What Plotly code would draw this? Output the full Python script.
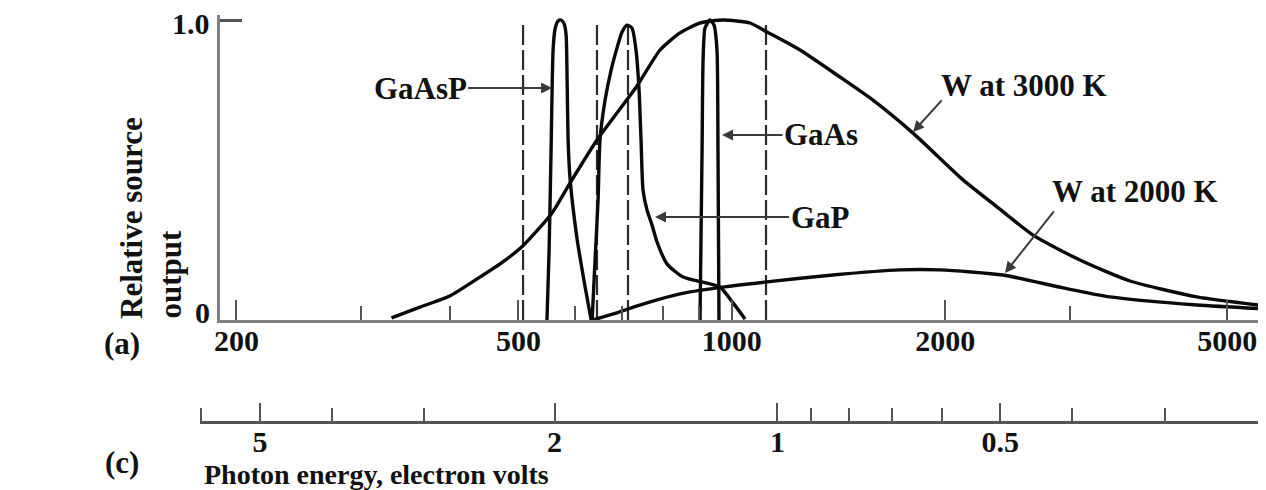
import math
import plotly.graph_objects as go

# ---------------- data ----------------
# Tungsten (W) lamp at 3000 K : wavelength (nm) / relative output
w3000_wl = [331, 363, 400, 441, 471, 507, 557.7, 591.3, 645.3, 734.8, 792, 845, 902, 972,
            1061, 1121, 1248, 1421, 1582, 1802, 2120, 2367, 2661, 3099, 3647, 4532, 5674]
w3000_rel = [0.007, 0.043, 0.08, 0.143, 0.187, 0.247, 0.357, 0.457, 0.6, 0.78, 0.9,
             0.957, 0.99, 1.0, 0.99, 0.96, 0.9, 0.81, 0.733, 0.623, 0.467, 0.377, 0.283,
             0.2, 0.13, 0.077, 0.047]

# Tungsten (W) lamp at 2000 K
w2000_wl = [637, 673, 759, 845, 953, 1121, 1389, 1727, 1967, 2414, 2934, 3418, 4532, 5674]
w2000_rel = [0.0, 0.017, 0.057, 0.087, 0.107, 0.127, 0.15, 0.167, 0.167, 0.15, 0.107,
             0.077, 0.05, 0.037]

# GaAsP LED
gaasp_wl = [548.5, 552.3, 555.9, 559.5, 563.1, 568.7, 574.2, 580.0, 583.7, 585.6, 587.5,
            591.3, 604.9, 620.9, 633.2]
gaasp_rel = [0.0, 0.23, 0.57, 0.90, 0.97, 0.997, 1.0, 0.987, 0.95, 0.80, 0.60, 0.47,
             0.27, 0.11, 0.0]

# GaP LED
gap_wl = [635.2, 641.3, 647.6, 651.6, 662.5, 675.6, 688.7, 700.0, 711.4, 723.1, 732.5,
          739.8, 744.6, 749.4, 759.1, 771.6, 784.3, 810.2, 853.6, 922.6, 962.3, 1004, 1044]
gap_rel = [0.0, 0.2, 0.4, 0.6, 0.733, 0.833, 0.907, 0.96, 0.983, 0.973, 0.9, 0.767, 0.6,
           0.433, 0.367, 0.317, 0.26, 0.187, 0.143, 0.123, 0.11, 0.057, 0.003]

# GaAs LED
gaas_wl = [901.9, 907.9, 910.9, 916.7, 931.6, 943.9, 953.0, 956.1, 959.2]
gaas_rel = [0.0, 0.567, 0.867, 0.973, 1.0, 0.983, 0.9, 0.567, 0.0]

# dashed reference wavelengths (nm) and their vertical extent
dashed_wl = [507.5, 645.3, 713.7, 1117.6]
dashed_span = [0.0, 1.0]

# wavelength axis ticks (nm)
wl_major = [200, 500, 1000, 2000, 5000]
wl_major_text = ["200", "500", "1000", "2000", "5000"]
wl_minor = [300, 400, 600, 700, 800, 900, 3000]

# photon-energy axis ticks (eV)
ev_major = [5, 2, 1, 0.5]
ev_major_text = ["5", "2", "1", "0.5"]
ev_minor = [6, 4, 3, 0.9, 0.8, 0.7, 0.6, 0.4, 0.3]

# relative output axis ticks
rel_ticks = [0, 1.0]
rel_tick_text = ["0", "1.0"]

# curve labels with arrows: text, arrow tip (nm, rel)
led_labels = ["GaAsP", "GaAs", "GaP"]
led_tip_wl = [557.7, 968.7, 779.2]
led_tip_rel = [0.773, 0.617, 0.343]

lamp_labels = ["W at 3000 K", "W at 2000 K"]
lamp_text_wl = [2584, 3707]
lamp_text_rel = [0.783, 0.427]
lamp_tip_wl = [1802, 2430]
lamp_tip_rel = [0.627, 0.157]

# ---------------- figure ----------------
FONT = "Liberation Serif"
INK = "#111111"
AXIS_GREY = "#808080"

fig = go.Figure()

for wl in dashed_wl:
    fig.add_trace(go.Scatter(
        x=[wl, wl], y=dashed_span, mode="lines",
        line=dict(color="#2b2b2b", width=2.2, dash="20px,5px"),
        hoverinfo="skip", showlegend=False))

curve_style = dict(color="#0a0a0a", width=3.4)
for xs, ys, nm in [(w3000_wl, w3000_rel, "W 3000 K"), (w2000_wl, w2000_rel, "W 2000 K"),
                   (gaasp_wl, gaasp_rel, "GaAsP"), (gap_wl, gap_rel, "GaP"),
                   (gaas_wl, gaas_rel, "GaAs")]:
    fig.add_trace(go.Scatter(
        x=xs, y=ys, mode="lines", name=nm,
        line=dict(shape="spline", smoothing=0.6, **curve_style),
        hoverinfo="skip", showlegend=False))

# dummy trace so that the photon-energy axis is drawn
fig.add_trace(go.Scatter(x=ev_major, y=[None] * len(ev_major), xaxis="x2", yaxis="y",
                         mode="markers", hoverinfo="skip", showlegend=False))

ann_font = dict(family=FONT, size=31, color=INK, weight="bold")
led_offsets = [(-132, 0), (99, 0), (165, 0)]
for txt, xw, yr, (ax, ay) in zip(led_labels, led_tip_wl, led_tip_rel, led_offsets):
    fig.add_annotation(x=math.log10(xw), y=yr, xref="x", yref="y", text=txt,
                       showarrow=True, ax=ax, ay=ay, arrowhead=2, arrowsize=1.1,
                       arrowwidth=2, arrowcolor="#3a3a3a", standoff=0, font=ann_font)

lamp_offsets = [(30, -33), (50, -63)]
for txt, tx, ty, xw, yr, (ax, ay) in zip(lamp_labels, lamp_text_wl, lamp_text_rel,
                                         lamp_tip_wl, lamp_tip_rel, lamp_offsets):
    fig.add_annotation(x=math.log10(tx), y=ty, xref="x", yref="y", text=txt,
                       showarrow=False, font=ann_font)
    fig.add_annotation(x=math.log10(xw), y=yr, xref="x", yref="y", text="",
                       showarrow=True, ax=ax, ay=ay, arrowhead=2, arrowsize=1.1,
                       arrowwidth=2, arrowcolor="#3a3a3a", standoff=0)

# relative-output tick labels, placed on the y scale beside the axis
tick_font = dict(family=FONT, size=30, color=INK, weight="bold")
for val, txt, shift in zip(rel_ticks, rel_tick_text, [8, -3]):
    fig.add_annotation(x=0.0113, y=val, xref="paper", yref="y", text=txt,
                       xanchor="right", yanchor="middle", yshift=shift,
                       showarrow=False, font=tick_font)

# axis titles / panel letters
side_font = dict(family=FONT, size=31, color=INK, weight="bold")
fig.add_annotation(x=-0.0638, y=0.2482, xref="paper", yref="paper", text="Relative source",
                   textangle=-90, xanchor="center", yanchor="bottom", showarrow=False,
                   font=side_font)
fig.add_annotation(x=-0.0281, y=0.2482, xref="paper", yref="paper", text="output",
                   textangle=-90, xanchor="center", yanchor="bottom", showarrow=False,
                   font=side_font)
fig.add_annotation(x=-0.0732, y=0.194, xref="paper", yref="paper", text="(a)",
                   xanchor="center", yanchor="middle", showarrow=False, font=side_font)
fig.add_annotation(x=-0.0732, y=-0.0983, xref="paper", yref="paper", text="(c)",
                   xanchor="center", yanchor="middle", showarrow=False, font=side_font)
fig.add_annotation(x=0.0019, y=-0.1302, xref="paper", yref="paper",
                   text="Photon energy, electron volts", xanchor="left", yanchor="middle",
                   showarrow=False, font=dict(family=FONT, size=28, color=INK, weight="bold"))

fig.update_layout(
    width=1258, height=482,
    margin=dict(l=192, r=0, t=7, b=68, autoexpand=False),
    paper_bgcolor="white", plot_bgcolor="rgba(0,0,0,0)",
    showlegend=False,
    font=dict(family=FONT, color=INK),
    xaxis=dict(
        type="log", domain=[20 / 1066, 1], range=[2.2778, 3.7538],
        anchor="y", automargin=False, showgrid=False, zeroline=False,
        showline=True, linecolor=AXIS_GREY, linewidth=3,
        tickmode="array", tickvals=wl_major, ticktext=wl_major_text,
        ticks="inside", ticklen=20, tickwidth=2, tickcolor="#555555",
        minor=dict(tickmode="array", tickvals=wl_minor, ticks="inside", ticklen=14,
                   tickwidth=2, tickcolor="#555555", showgrid=False),
        tickfont=tick_font, ticklabelstandoff=-8, ticklabeloverflow="allow",
    ),
    xaxis2=dict(
        type="log", domain=[0, 1], range=[0.7799, -0.6599],
        anchor="free", position=0, side="bottom", automargin=False,
        showgrid=False, zeroline=False,
        showline=True, linecolor="#555555", linewidth=3,
        tickmode="array", tickvals=ev_major, ticktext=ev_major_text,
        ticks="inside", ticklen=18, tickwidth=2, tickcolor="#555555",
        minor=dict(tickmode="array", tickvals=ev_minor, ticks="inside", ticklen=13,
                   tickwidth=2, tickcolor="#555555", showgrid=False),
        tickfont=tick_font, ticklabelstandoff=-8, ticklabeloverflow="allow",
    ),
    yaxis=dict(
        domain=[102 / 407, 1], range=[0, 305 / 300], automargin=False,
        showgrid=False, zeroline=False,
        showline=True, linecolor=AXIS_GREY, linewidth=3,
        tickmode="array", tickvals=rel_ticks, showticklabels=False,
        ticks="inside", ticklen=22, tickwidth=3, tickcolor="#555555",
    ),
)

fig.write_html("out.html")
